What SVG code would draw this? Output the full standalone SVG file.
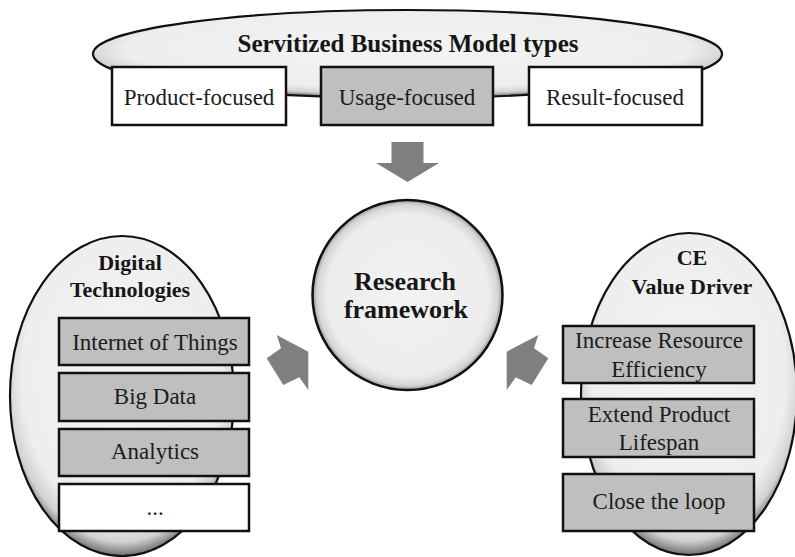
<svg xmlns="http://www.w3.org/2000/svg" width="795" height="557" viewBox="0 0 795 557">
<defs>
<radialGradient id="shade" cx="0.5" cy="0.44" r="0.56">
<stop offset="0" stop-color="#f3f3f3"/>
<stop offset="0.8" stop-color="#eeeeee"/>
<stop offset="0.92" stop-color="#d2d2d2"/>
<stop offset="1" stop-color="#6e6e6e"/>
</radialGradient>
<radialGradient id="shadeC" cx="0.5" cy="0.5" r="0.5">
<stop offset="0" stop-color="#f2f2f2"/>
<stop offset="0.85" stop-color="#ededed"/>
<stop offset="0.95" stop-color="#d6d6d6"/>
<stop offset="1" stop-color="#9a9a9a"/>
</radialGradient>
</defs>
<style>
.ell{fill:url(#shade);stroke:#111;stroke-width:2.2}
.circ{fill:url(#shadeC);stroke:#111;stroke-width:2.5}
.box{stroke:#111;stroke-width:2.5}
.g{fill:#bfbfbf}
.w{fill:#ffffff}
.t{font-family:"Liberation Serif","Times New Roman",serif;font-size:23px;fill:#1c1c1c;text-anchor:middle}
.b{font-family:"Liberation Serif","Times New Roman",serif;font-weight:bold;fill:#161616;text-anchor:middle}
.arr{fill:#7f7f7f}
</style>
<rect width="795" height="557" fill="#ffffff"/>

<g id="sbm-types">
<ellipse class="ell" cx="407.5" cy="54" rx="314.5" ry="44"/>
<text class="b" x="408" y="52" font-size="25">Servitized Business Model types</text>
</g>
<g id="product-focused">
<rect class="box w" x="112" y="67" width="174" height="58"/>
<text class="t" x="199" y="105">Product-focused</text>
</g>
<g id="usage-focused">
<rect class="box g" x="321" y="67" width="172" height="58"/>
<text class="t" x="407" y="105">Usage-focused</text>
</g>
<g id="result-focused">
<rect class="box w" x="529" y="67" width="173" height="58"/>
<text class="t" x="615" y="105">Result-focused</text>
</g>

<g id="digital-technologies">
<ellipse class="ell" cx="122" cy="396" rx="112" ry="160"/>
<text class="b" x="130" y="270" font-size="22">Digital</text>
<text class="b" x="130" y="297" font-size="22">Technologies</text>
</g>
<g id="iot">
<rect class="box g" x="59" y="318" width="190" height="47"/>
<text class="t" x="155" y="350">Internet of Things</text>
</g>
<g id="big-data">
<rect class="box g" x="59" y="373" width="190" height="48"/>
<text class="t" x="155" y="404">Big Data</text>
</g>
<g id="analytics">
<rect class="box g" x="59" y="429" width="190" height="47"/>
<text class="t" x="155" y="459">Analytics</text>
</g>
<g id="more">
<rect class="box w" x="59" y="484" width="190" height="47"/>
<text class="t" x="155" y="515">...</text>
</g>

<g id="ce-value-driver">
<ellipse class="ell" cx="689" cy="394" rx="108" ry="161"/>
<text class="b" x="692" y="265" font-size="22">CE</text>
<text class="b" x="692" y="294" font-size="22">Value Driver</text>
</g>
<g id="resource-efficiency">
<rect class="box g" x="563" y="326" width="191" height="57"/>
<text class="t" x="659" y="348">Increase Resource</text>
<text class="t" x="659" y="377">Efficiency</text>
</g>
<g id="product-lifespan">
<rect class="box g" x="563" y="399" width="191" height="58"/>
<text class="t" x="659" y="422">Extend Product</text>
<text class="t" x="659" y="450">Lifespan</text>
</g>
<g id="close-loop">
<rect class="box g" x="563" y="474" width="191" height="57"/>
<text class="t" x="659" y="509">Close the loop</text>
</g>

<g id="research-framework">
<circle class="circ" cx="407.5" cy="295" r="95"/>
<text class="b" x="405" y="290" font-size="26">Research</text>
<text class="b" x="406" y="318" font-size="26">framework</text>
</g>

<g id="connectors">
<polygon class="arr" points="391.5,142 423.5,142 423.5,163 439,163 407.5,182 376,163 391.5,163"/>
<polygon class="arr" points="276.7,335 308.3,351.7 308.3,390 299.3,377.3 283.3,385 266.7,358.3 281,348.3"/>
<polygon class="arr" points="538.3,335 506.7,351.7 506.7,390 515.7,377.3 531.7,385 548.3,358.3 534,348.3"/>
</g>
</svg>
